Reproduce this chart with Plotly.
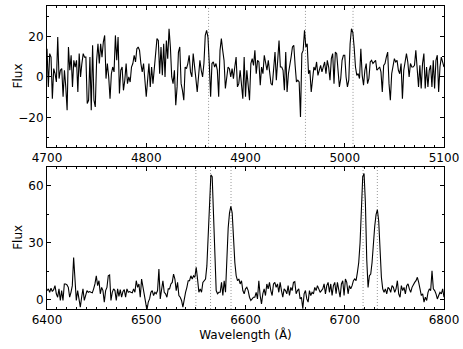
import numpy as np
import plotly.graph_objects as go

flux_blue = [
    13.9, -4.9, 11.5, 9.8, -10.7, 4.1, 1.6, -2.5, 19.7, -0.8,
    3.3, 4.1, -9.8, 3.3, -4.9, -16.4, 14.8, 3.3, 10.7, -4.9,
    8.2, 4.9, 8.2, -7.4, 11.5, 0, 6.6, 11.5, 9.8, 9.8,
    -13.1, -11.5, 9.8, -16.4, 15.6, -11.5, -14.8, 8.2, 16.4, 6.6,
    16.4, 9.8, 17.2, 20.5, -0.8, 6.6, 0, -10.7, 1.6, 4.9,
    2.5, 20.5, 8.2, 19.7, -8.2, 3.3, 4.9, -6.6, -1.6, 6.6,
    -3.3, 0, -2.5, 4.9, 6.6, 10.7, 7.4, 13.9, 14.8, 13.1,
    6.6, 2.5, 6.6, -0.8, -9.8, -1.6, 6.6, -4.9, 4.9, -3.3,
    3.3, 13.1, 18.9, 18.0, 1.6, 14.8, 0.8, 16.4, 0, 18.0,
    9.0, 23.8, 14.8, 0, -3.3, 3.3, -13.9, -4.9, 12.3, 14.8,
    -3.3, -6.6, -11.5, 4.9, 4.1, 6.6, 10.7, 2.5, 0, 11.5,
    3.3, -0.8, -7.4, 3.3, 8.2, 3.3, 0, 6.6, 20.5, 23.0,
    19.7, 6.6, -9.8, 6.6, 7.4, 4.9, 6.6, 3.3, -9.8, 13.1,
    18.9, 13.1, 8.2, -5.7, 1.6, 4.9, 4.1, 0, 4.1, -0.8,
    4.9, 9.8, -4.9, -3.3, 3.3, -4.9, -10.7,
    9.8, -9.8, 3.3, -2.5, -11.5, 6.6, 9.0, 5.7, 13.1, 1.6,
    8.2, 7.4, -4.1, 4.9, 1.6, 10.7, 6.6, 3.3, 8.2, 0.8,
    -3.3, -4.1, 4.9, 12.3, -1.6, 9.8, 18.0, 4.9, 4.9, 3.3,
    -6.6, 12.3, -7.4, 1.6, 4.9, 9.8, 14.8, 15.6, 5.7, -2.5,
    -1.6, -2.5, -19.7, 11.5, 13.1, 23.0, 14.8, 16.4, 1.6, 3.3,
    -7.4, 0, 4.9, 3.3, 7.4, 0.8, 3.3, 5.7, 2.5, 4.9,
    7.4, 1.6, 8.2, 4.9, -1.6, 9.0, 11.5, -3.3, 12.3, 11.5,
    3.3, -4.9, -0.8, 8.2, 10.7, 10.7, 0, -4.9, -1.6, 16.4,
    23.8, 22.1, 14.8, 4.9, 0.8, 1.6, -0.8, 13.9, 0.8, -4.1,
    3.3, 6.6, -3.3, -0.8, 7.4, 8.2, 6.6, 7.4, 8.2, 3.3,
    4.1, 4.9, 2.5, -7.4, 5.7, 6.6, 9.8, 12.3, -3.3, -11.5,
    1.6, 4.9, 9.0, 7.4, 8.2, 3.3, 1.6, 6.6, -10.7, 3.3,
    8.2, 11.5, 7.4, 0, 6.6, 4.9, 4.9, 5.7, 13.1, 1.6,
    -4.9, 5.7, -5.7, 6.6, 11.5, -5.7, 4.9, -4.9, 3.3, 5.7,
    -4.9, 8.2, -5.7, 8.2, 10.7, -7.4, 4.9, 9.8, 6.6, 4.9,
]

flux_red = [
    4.7, 5.6, 3.8, 5.9, 4.2, 5.2, 7.3, 3.0, 1.2, 5.6,
    -0.5, 4.7, -0.5, 8.2, 8.2, 7.7, 6.4, 1.2, 3.8, 7.3,
    22.1, 7.3, -0.5, 4.7, 1.2, -4.0, 1.2, 5.6, -0.5, 3.0,
    4.7, 3.8, 4.2, 3.8, 3.5, 5.6, 8.2, 12.5, 7.3, 9.9,
    3.0, 6.4, 4.7, -1.4, 4.7, 6.4, 12.5, 12.9, -0.5, 3.8,
    5.6, 4.7, -0.5, 5.6, 1.7, 5.2, 1.2, 4.2, 5.2, 1.2,
    5.6, 3.8, 4.2, 3.8, 3.5, 5.6, 3.8, 9.9, 6.4, 8.2,
    1.2, 10.8, 7.3, 2.1, -1.4, -5.7, -1.4, 0.3, 3.8, 4.7,
    2.1, 3.8, 3.0, 4.7, 16.0, 0.3, 5.6, 9.9, 3.8, 3.0,
    1.2, 5.6, 5.6, 8.2, 9.0, 13.4, 10.8, 4.7, 9.0, 2.1,
    1.2, -0.5, -4.0, 0.3, 3.8, 6.4, 9.9, 9.9, 12.5, 10.8,
    12.5, 11.7, 16.9, 10.8, 3.8, 5.6, 3.8, 9.0, 9.9, 10.8,
    17.7, 35.1, 56.0, 65.6, 64.7, 43.8, 17.7, 4.7, 3.0, 3.8,
    3.8, 9.0, 2.1, 9.9, 3.8, 21.2, 37.7, 45.6, 49.0, 45.6,
    28.2, 19.5, 12.5, 9.9, 10.8, 8.2, 9.9, 4.7, 3.0,
    5.6, 6.4, 4.7, 1.2, -0.5, 0.3, 1.2, 1.2, 3.8, 0.3,
    9.9, 2.1, -2.3, 3.0, 5.6, 2.1, 8.2, 5.6, 9.0, 4.7,
    2.1, 8.2, 9.0, 6.4, 8.2, 3.8, 9.0, 4.7, 1.2, 5.6,
    4.7, 3.0, 7.3, 2.1, 6.4, 4.7, 9.0, 9.4, 3.0, 4.7,
    5.6, 0.3, 1.2, -4.9, 3.0, 4.7, 0.3, -1.4, 4.7, 2.1,
    3.8, 3.0, 6.4, 4.7, 7.3, 5.6, 3.8, 4.7, 5.6, 8.2,
    3.0, 7.3, 9.0, 3.8, 8.2, 2.1, 7.3, 9.0, 3.0, 9.0,
    5.6, 1.2, 8.2, 9.9, 2.1, 10.8, 9.0, 3.0, 7.3, 5.6,
    7.3, 9.9, 10.8, 9.9, 14.3, 19.5, 29.9, 50.8, 64.7, 66.4,
    50.8, 21.2, 6.4, 12.5, 13.4, 19.5, 29.9, 38.6, 44.7, 47.3,
    41.2, 26.4, 11.7, 5.6, 3.8, 5.6, 3.0, 6.4, 5.6, 3.8,
    7.3, 6.4, 3.8, 5.6, 9.9, 3.0, 1.2, 7.3, 4.7, 6.4,
    3.0, 7.3, 8.2, 5.6, 3.8, 6.4, 8.2, 9.0, 9.9, 11.7,
    9.0, 4.7, 2.1, 3.0, -1.4, 1.2, -0.5, 3.8, 5.6, 4.7,
    15.1, 5.6, 4.7, 3.0, 0.3, 2.1, 3.8, 3.0, 5.6, 1.2,
]

# rest wavelengths of the marked lines (Hb, [OIII] / [NII], Ha, [SII])
lines_blue = [4861.33, 4958.91, 5006.84]
lines_red = [6548.05, 6562.82, 6583.45, 6716.44, 6730.82]
redshift = 0.0003

wl_blue = np.linspace(4700, 5100, len(flux_blue))
wl_red = np.linspace(6400, 6800, len(flux_red))

font = dict(family='DejaVu Sans, Verdana, sans-serif', size=12, color='black')

fig = go.Figure()
fig.add_trace(go.Scatter(x=wl_blue, y=flux_blue, mode='lines',
                         line=dict(color='black', width=1.1), xaxis='x', yaxis='y'))
fig.add_trace(go.Scatter(x=wl_red, y=flux_red, mode='lines',
                         line=dict(color='black', width=1.1), xaxis='x2', yaxis='y2'))

# dotted markers at the redshifted line centres
dotted = dict(color='#999999', width=1, dash='1px,2px')
for lam in lines_blue:
    fig.add_shape(type='line', xref='x', yref='y domain', x0=lam * (1 + redshift),
                  x1=lam * (1 + redshift), y0=0, y1=1, line=dotted, layer='below')
for lam in lines_red:
    fig.add_shape(type='line', xref='x2', yref='y2 domain', x0=lam * (1 + redshift),
                  x1=lam * (1 + redshift), y0=0, y1=1, line=dotted, layer='below')

# y titles placed by hand, closer to the ticks than plotly's default
for yref in ['y domain', 'y2 domain']:
    fig.add_annotation(text='Flux', xref='paper', yref=yref, x=-0.073, y=0.5,
                       textangle=-90, showarrow=False, font=font,
                       xanchor='center', yanchor='middle')

axis_style = dict(showgrid=False, zeroline=False, showline=True, linecolor='black',
                  linewidth=1, mirror='allticks', ticks='inside', ticklen=4,
                  tickcolor='black', tickfont=font, automargin=False)
minor_style = dict(ticks='inside', ticklen=2, tickcolor='black')

fig.update_layout(
    width=463, height=349,
    margin=dict(l=47, r=19, t=6, b=40, autoexpand=False),
    paper_bgcolor='white', plot_bgcolor='white',
    showlegend=False, font=font,
    xaxis=dict(axis_style, domain=[0, 1], anchor='y', range=[4700, 5100], dtick=100,
               minor=dict(minor_style, dtick=10)),
    yaxis=dict(axis_style, domain=[0.535, 1], anchor='x', range=[-34.5, 35], dtick=20,
               minor=dict(minor_style, dtick=10)),
    xaxis2=dict(axis_style, domain=[0, 1], anchor='y2', range=[6400, 6800], dtick=100,
                minor=dict(minor_style, dtick=10),
                title=dict(text='Wavelength (Å)', font=font, standoff=4)),
    yaxis2=dict(axis_style, domain=[0, 0.47], anchor='x2', range=[-5, 70], dtick=30,
                minor=dict(minor_style, dtick=15)),
)

# drop the browser's default page margin so the figure sits at the corner
fig.write_html("out.html", config={'displayModeBar': False},
               post_script="document.body.style.margin='0px';")
